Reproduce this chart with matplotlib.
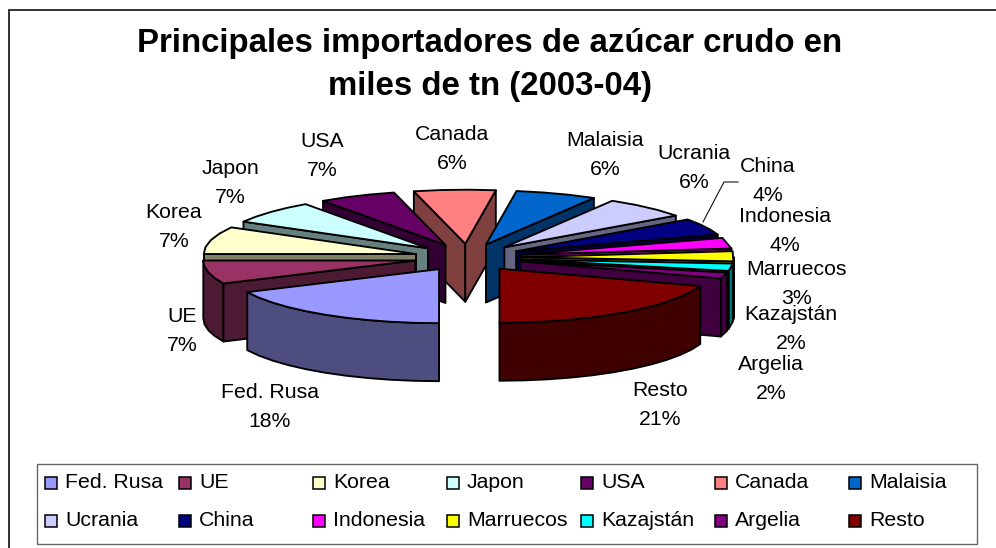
import numpy as np
import matplotlib
matplotlib.use("Agg")
import matplotlib.pyplot as plt
from matplotlib.patches import Polygon, Rectangle

plt.rcParams['font.family'] = ['Liberation Sans', 'DejaVu Sans']

names = ["Fed. Rusa", "UE", "Korea", "Japon", "USA", "Canada", "Malaisia",
         "Ucrania", "China", "Indonesia", "Marruecos", "Kazajstán", "Argelia", "Resto"]
# printed percentages
pct_labels = [18, 7, 7, 7, 7, 6, 6, 6, 4, 4, 3, 2, 2, 21]
# slice sizes as they look on the tilted pie, these differ a bit from the printed ones
shares = [18.0, 7.0, 8.2, 7.0, 5.9, 6.2, 6.2, 6.5, 5.0, 3.2, 3.0, 2.2, 1.8, 19.8]
colors = ["#9999FF", "#993366", "#FFFFCC", "#CCFFFF", "#660066", "#FF8080", "#0066CC",
          "#CCCCFF", "#000080", "#FF00FF", "#FFFF00", "#00FFFF", "#800080", "#800000"]
title = "Principales importadores de azúcar crudo en\nmiles de tn (2003-04)"

# label centres, pixels
label_xy = [(270, 407), (182, 331), (174, 227), (230, 183), (322, 156), (452, 149), (605, 155),
            (694, 168), (768, 181), (785, 231), (796, 284), (791, 329), (771, 379), (660, 405)]

# pie geometry, pixels
cx, cy = 468, 257.5
R, tilt, depth, explode = 212, 0.255, 58, 54
lw = 1.35


def project(theta, r, ox, oy):
    t = np.radians(theta)
    return ox + r * np.sin(t), oy - r * np.cos(t) * tilt


def arc(t0, t1, ox, oy):
    n = max(2, int((t1 - t0) / 6) + 1)
    ts = np.linspace(t0, t1, n)
    xs, ys = project(ts, R, ox, oy)
    return np.column_stack([xs, ys])


def wall(ax, pts, col):
    # extrude an edge downwards
    low = pts + [0, depth]
    ax.add_patch(Polygon(np.vstack([pts, low[::-1]]), closed=True, fc=col, ec='k', lw=lw, joinstyle='round'))


fig = plt.figure(figsize=(9.96, 5.48), dpi=100)
ax = fig.add_axes([0, 0, 1, 1])
ax.set_xlim(0, 996)
ax.set_ylim(548, 0)
ax.axis('off')

# chart frame, runs off the right and bottom of the shot
ax.plot([9, 9, 996], [548, 10, 10], color='#333333', lw=1.4, solid_joinstyle='miter')

ax.text(490, 65, title, ha='center', va='center', fontsize=23.8, fontweight='bold',
        linespacing=1.52, color='k')

bounds = 180 + np.cumsum([0] + shares) / sum(shares) * 360
mids = (bounds[:-1] + bounds[1:]) / 2

# back slices first
for i in np.argsort(-np.cos(np.radians(mids))):
    t0, t1, mid = bounds[i], bounds[i + 1], mids[i]
    col = np.array(matplotlib.colors.to_rgb(colors[i]))
    side = col * 0.5
    ox, oy = project(mid, explode, cx, cy)
    apex = np.array([[ox, oy]])

    # outer rim, only the part on the front half shows
    for lo, hi in [(90, 270), (450, 630)]:
        a, b = max(t0, lo), min(t1, hi)
        if b > a:
            wall(ax, arc(a, b, ox, oy), side)

    # radial faces
    if np.sin(np.radians(t0)) < -1e-6:
        wall(ax, np.vstack([apex, arc(t0, t0, ox, oy)[:1]]), side)
    if np.sin(np.radians(t1)) > 1e-6:
        wall(ax, np.vstack([apex, arc(t1, t1, ox, oy)[:1]]), side)

    ax.add_patch(Polygon(np.vstack([apex, arc(t0, t1, ox, oy)]), closed=True, fc=col, ec='k',
                         lw=lw, joinstyle='round'))

# leader line for China
ax.plot([703, 724, 738], [222, 182, 182], color='#111111', lw=0.8)

for name, pct, (x, y) in zip(names, pct_labels, label_xy):
    ax.text(x, y, f"{name}\n{pct}%", ha='center', va='center', fontsize=15.3, linespacing=1.68, color='k')

# legend
ax.add_patch(Rectangle((36.5, 464), 940.5, 80, fc='white', ec='#666666', lw=1.0))
for i, name in enumerate(names):
    col, row = i % 7, i // 7
    lx = 45 + 134 * col
    ly = 483 + 38 * row
    ax.add_patch(Rectangle((lx, ly - 6), 12, 12, fc=colors[i], ec='k', lw=1.1))
    ax.text(lx + 20, ly, name, ha='left', va='center', fontsize=15.3, color='k')

fig.savefig("out.png", dpi=100)
